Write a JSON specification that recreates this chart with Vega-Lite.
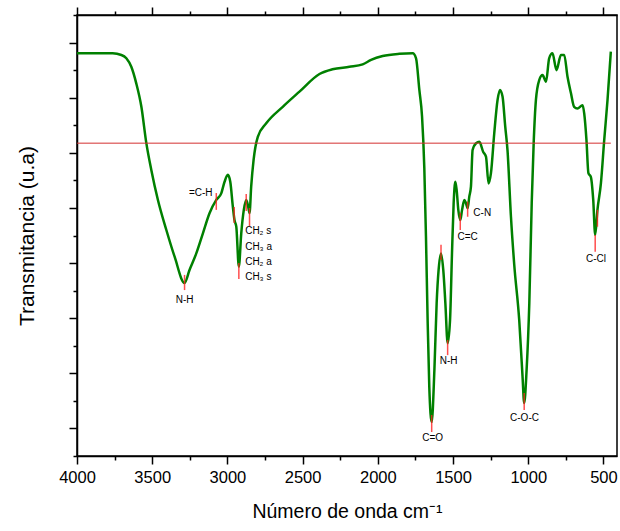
{
  "$schema": "https://vega.github.io/schema/vega-lite/v6.json",
  "width": 540,
  "height": 441,
  "autosize": "none",
  "padding": {"left": 77, "top": 15, "right": 3, "bottom": 75},
  "background": "white",
  "config": {
    "view": {"stroke": "black", "strokeWidth": 1.5},
    "font": "Liberation Sans",
    "axis": {
      "grid": false,
      "domainColor": "black",
      "domainWidth": 1.5,
      "tickColor": "black",
      "tickWidth": 1.5,
      "labelColor": "black",
      "titleColor": "black",
      "labelFont": "Liberation Sans",
      "titleFont": "Liberation Sans",
      "titleFontWeight": "normal",
      "labelFlush": false,
      "labelOverlap": false
    }
  },
  "datasets": {
    "spectrum": [
      {"wn": 4000, "t": 14.61}, {"wn": 3763, "t": 14.61}, {"wn": 3705, "t": 14.55}, {"wn": 3672, "t": 14.43},
      {"wn": 3639, "t": 14.12}, {"wn": 3606, "t": 13.52}, {"wn": 3572, "t": 12.67}, {"wn": 3539, "t": 11.35},
      {"wn": 3506, "t": 10.38}, {"wn": 3462, "t": 9.29}, {"wn": 3406, "t": 8.2}, {"wn": 3351, "t": 7.23},
      {"wn": 3285, "t": 6.28}, {"wn": 3252, "t": 6.75}, {"wn": 3207, "t": 7.35}, {"wn": 3163, "t": 8.08},
      {"wn": 3119, "t": 8.81}, {"wn": 3074, "t": 9.29}, {"wn": 3041, "t": 9.53}, {"wn": 3019, "t": 9.95},
      {"wn": 2997, "t": 10.2}, {"wn": 2981, "t": 9.95}, {"wn": 2964, "t": 9.05}, {"wn": 2953, "t": 8.56},
      {"wn": 2941, "t": 8.32}, {"wn": 2924, "t": 6.87}, {"wn": 2908, "t": 8.08}, {"wn": 2891, "t": 8.93},
      {"wn": 2875, "t": 9.29}, {"wn": 2864, "t": 9.11}, {"wn": 2853, "t": 8.81}, {"wn": 2842, "t": 9.77},
      {"wn": 2826, "t": 10.74}, {"wn": 2798, "t": 11.58}, {"wn": 2742, "t": 12.07}, {"wn": 2632, "t": 12.67},
      {"wn": 2521, "t": 13.22}, {"wn": 2388, "t": 13.86}, {"wn": 2302, "t": 14.03}, {"wn": 2189, "t": 14.12},
      {"wn": 2101, "t": 14.21}, {"wn": 2045, "t": 14.37}, {"wn": 1968, "t": 14.51}, {"wn": 1857, "t": 14.59},
      {"wn": 1768, "t": 14.61}, {"wn": 1746, "t": 14.43}, {"wn": 1724, "t": 13.28}, {"wn": 1706, "t": 12.31},
      {"wn": 1691, "t": 10.45}, {"wn": 1680, "t": 7.96}, {"wn": 1669, "t": 4.93}, {"wn": 1658, "t": 2.51},
      {"wn": 1642, "t": 1.23}, {"wn": 1624, "t": 3.12}, {"wn": 1609, "t": 5.54}, {"wn": 1596, "t": 6.75},
      {"wn": 1580, "t": 7.35}, {"wn": 1565, "t": 6.75}, {"wn": 1551, "t": 5.54}, {"wn": 1536, "t": 4.09},
      {"wn": 1520, "t": 4.93}, {"wn": 1507, "t": 7.35}, {"wn": 1496, "t": 9.17}, {"wn": 1485, "t": 9.95},
      {"wn": 1476, "t": 9.65}, {"wn": 1465, "t": 8.93}, {"wn": 1452, "t": 8.56}, {"wn": 1440, "t": 8.93},
      {"wn": 1425, "t": 9.29}, {"wn": 1414, "t": 9.17}, {"wn": 1403, "t": 8.99}, {"wn": 1392, "t": 9.41},
      {"wn": 1381, "t": 9.77}, {"wn": 1370, "t": 11.1}, {"wn": 1347, "t": 11.35}, {"wn": 1325, "t": 11.4},
      {"wn": 1300, "t": 11.04}, {"wn": 1281, "t": 10.86}, {"wn": 1264, "t": 9.89}, {"wn": 1248, "t": 10.26},
      {"wn": 1226, "t": 11.71}, {"wn": 1204, "t": 12.92}, {"wn": 1188, "t": 13.28}, {"wn": 1171, "t": 13.04},
      {"wn": 1153, "t": 11.95}, {"wn": 1138, "t": 11.1}, {"wn": 1115, "t": 8.68}, {"wn": 1093, "t": 6.93},
      {"wn": 1060, "t": 4.93}, {"wn": 1038, "t": 2.88}, {"wn": 1027, "t": 1.92}, {"wn": 1011, "t": 3.12},
      {"wn": 993, "t": 5.54}, {"wn": 977, "t": 9.17}, {"wn": 964, "t": 11.35}, {"wn": 949, "t": 12.92},
      {"wn": 927, "t": 13.64}, {"wn": 905, "t": 13.82}, {"wn": 882, "t": 13.58}, {"wn": 861, "t": 14.43},
      {"wn": 839, "t": 14.61}, {"wn": 812, "t": 14.0}, {"wn": 783, "t": 14.55}, {"wn": 761, "t": 14.55},
      {"wn": 739, "t": 13.76}, {"wn": 716, "t": 13.16}, {"wn": 695, "t": 12.67}, {"wn": 673, "t": 12.61},
      {"wn": 639, "t": 12.73}, {"wn": 628, "t": 12.43}, {"wn": 613, "t": 11.46}, {"wn": 600, "t": 10.26},
      {"wn": 584, "t": 10.13}, {"wn": 568, "t": 9.29}, {"wn": 555, "t": 8.02}, {"wn": 540, "t": 8.93},
      {"wn": 517, "t": 9.89}, {"wn": 495, "t": 11.46}, {"wn": 473, "t": 12.92}, {"wn": 451, "t": 14.67}
    ],
    "ref": [{"x1": 4000, "x2": 451, "y": 11.35}],
    "marks": [
      {"wn": 3285, "y1": 6.57, "y2": 6.02},
      {"wn": 3074, "y1": 9.54, "y2": 8.93},
      {"wn": 2955, "y1": 9.03, "y2": 8.45},
      {"wn": 2924, "y1": 7.0, "y2": 6.42},
      {"wn": 2875, "y1": 9.51, "y2": 8.89},
      {"wn": 2853, "y1": 9.0, "y2": 8.34},
      {"wn": 1642, "y1": 1.49, "y2": 0.87},
      {"wn": 1580, "y1": 7.66, "y2": 7.11},
      {"wn": 1536, "y1": 4.21, "y2": 3.66},
      {"wn": 1452, "y1": 8.82, "y2": 8.2},
      {"wn": 1403, "y1": 9.23, "y2": 8.68},
      {"wn": 1027, "y1": 2.29, "y2": 1.67},
      {"wn": 555, "y1": 8.02, "y2": 7.41},
      {"wn": 540, "y1": 8.93, "y2": 8.32}
    ],
    "labels_c": [
      {"wn": 3285, "y": 5.66, "label": "N-H"},
      {"wn": 1636, "y": 0.64, "label": "C=O"},
      {"wn": 1529, "y": 3.46, "label": "N-H"},
      {"wn": 1403, "y": 7.96, "label": "C=C"},
      {"wn": 1025, "y": 1.39, "label": "C-O-C"},
      {"wn": 550, "y": 7.14, "label": "C-Cl"}
    ],
    "labels_l": [
      {"wn": 2882, "y": 8.17, "label": "CH₂ s"},
      {"wn": 2882, "y": 7.59, "label": "CH₃ a"},
      {"wn": 2882, "y": 7.05, "label": "CH₂ a"},
      {"wn": 2882, "y": 6.51, "label": "CH₃ s"},
      {"wn": 1365, "y": 8.81, "label": "C-N"}
    ],
    "labels_r": [
      {"wn": 3099, "y": 9.55, "label": "=C-H"}
    ]
  },
  "layer": [
    {
      "data": {"name": "spectrum"},
      "mark": {"type": "line", "color": "#008000", "strokeWidth": 2.5, "interpolate": "monotone"},
      "encoding": {
        "x": {
          "field": "wn", "type": "quantitative",
          "scale": {"domain": [410, 4000], "reverse": true, "nice": false, "zero": false},
          "axis": {
            "orient": "bottom",
            "title": "Número de onda cm⁻¹",
            "values": [4000, 3500, 3000, 2500, 2000, 1500, 1000, 500],
            "format": "d",
            "tickSize": 8,
            "labelFontSize": 16.5,
            "labelPadding": 5,
            "titleFontSize": 19.5,
            "titlePadding": 17
          }
        },
        "y": {
          "field": "t", "type": "quantitative",
          "scale": {"domain": [0, 16], "nice": false, "zero": false},
          "axis": {
            "orient": "left",
            "title": "Transmitancia (u.a)",
            "values": [1, 3, 5, 7, 9, 11, 13, 15],
            "labels": false,
            "tickSize": 8,
            "titleFontSize": 21,
            "titlePadding": 31
          }
        }
      }
    },
    {
      "data": {"name": "ref"},
      "mark": {"type": "rule", "color": "#d43030", "strokeWidth": 1},
      "encoding": {
        "x": {
          "field": "x1", "type": "quantitative",
          "axis": {
            "orient": "top",
            "title": null,
            "labels": false,
            "values": [4000, 3500, 3000, 2500, 2000, 1500, 1000, 500],
            "tickSize": 8
          }
        },
        "x2": {"field": "x2"},
        "y": {
          "field": "y", "type": "quantitative",
          "axis": {
            "orient": "left",
            "title": null,
            "labels": false,
            "domain": false,
            "values": [0, 2, 4, 6, 8, 10, 12, 14, 16],
            "tickSize": 4
          }
        }
      }
    },
    {
      "data": {"name": "marks"},
      "mark": {"type": "rule", "color": "#ff2020", "strokeWidth": 1.5, "opacity": 0.8},
      "encoding": {
        "x": {
          "field": "wn", "type": "quantitative",
          "axis": {
            "orient": "bottom",
            "title": null,
            "labels": false,
            "domain": false,
            "values": [3750, 3250, 2750, 2250, 1750, 1250, 750],
            "tickSize": 4
          }
        },
        "y": {"field": "y1", "type": "quantitative", "axis": null},
        "y2": {"field": "y2"}
      }
    },
    {
      "data": {"name": "labels_c"},
      "mark": {"type": "text", "align": "center", "baseline": "middle", "fontSize": 10, "font": "Liberation Sans", "color": "black"},
      "encoding": {
        "x": {
          "field": "wn", "type": "quantitative",
          "axis": {
            "orient": "top",
            "title": null,
            "labels": false,
            "domain": false,
            "values": [3750, 3250, 2750, 2250, 1750, 1250, 750],
            "tickSize": 4
          }
        },
        "y": {"field": "y", "type": "quantitative", "axis": null},
        "text": {"field": "label"}
      }
    },
    {
      "data": {"name": "labels_l"},
      "mark": {"type": "text", "align": "left", "baseline": "middle", "fontSize": 10, "font": "Liberation Sans", "color": "black"},
      "encoding": {
        "x": {"field": "wn", "type": "quantitative", "axis": null},
        "y": {"field": "y", "type": "quantitative", "axis": null},
        "text": {"field": "label"}
      }
    },
    {
      "data": {"name": "labels_r"},
      "mark": {"type": "text", "align": "right", "baseline": "middle", "fontSize": 10, "font": "Liberation Sans", "color": "black"},
      "encoding": {
        "x": {"field": "wn", "type": "quantitative", "axis": null},
        "y": {"field": "y", "type": "quantitative", "axis": null},
        "text": {"field": "label"}
      }
    }
  ],
  "resolve": {"axis": {"x": "independent", "y": "independent"}}
}
